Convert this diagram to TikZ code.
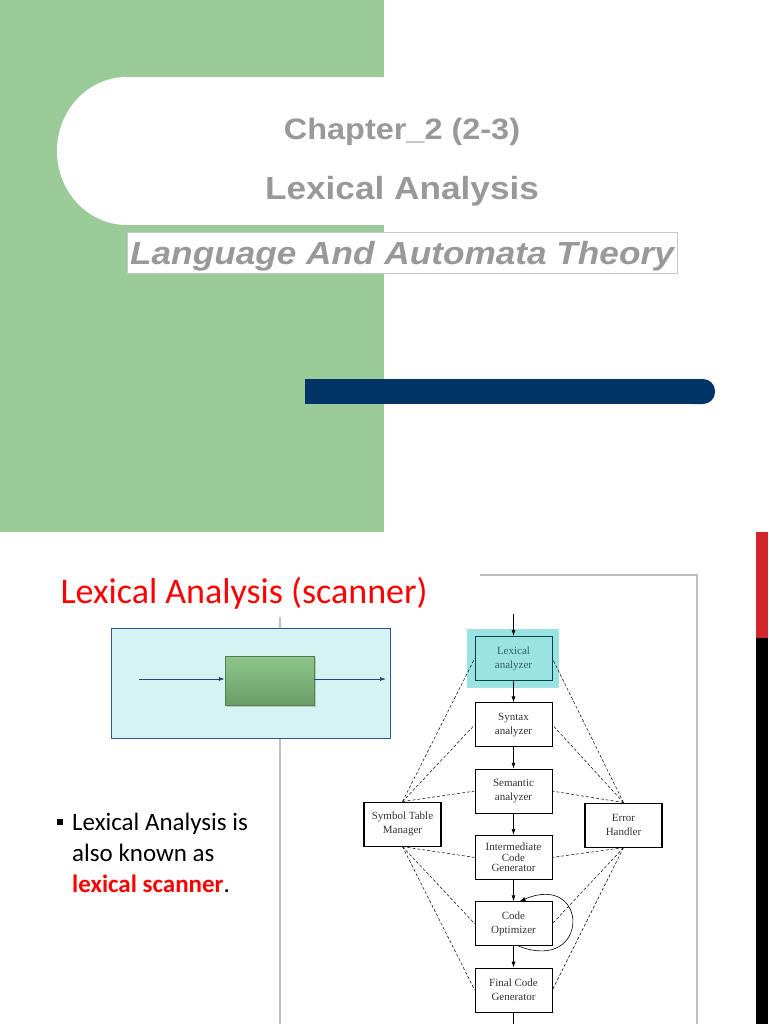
\documentclass[tikz,border=0pt]{standalone}
\usepackage{fontspec}
\setmainfont{Carlito}
\newfontfamily\headfont[FakeStretch=1.1]{Liberation Sans}
\newfontfamily\figfont{Liberation Serif}
\usetikzlibrary{positioning, shadows, arrows.meta}

\definecolor{slidegreen}{HTML}{9ACB99}
\definecolor{slideblue}{HTML}{003366}
\definecolor{headgray}{HTML}{999999}
\definecolor{scanred}{HTML}{FF0000}
\definecolor{framecyan}{HTML}{D6F3F3}
\definecolor{frameblue}{HTML}{2F5597}
\definecolor{lexcyan}{HTML}{9BE3E3}
\definecolor{barred}{HTML}{D0262B}
\definecolor{boxtop}{HTML}{8DC68B}
\definecolor{boxbottom}{HTML}{6A9F68}

\tikzset{
  head/.style={anchor=base, text=headgray, font=\headfont\bfseries\fontsize{32}{38}\selectfont},
  phase/.style={draw, line width=0.7pt, minimum width=77pt, minimum height=44pt, inner sep=1pt,
    align=center, text=black!80, font=\figfont\fontsize{11}{14}\selectfont},
  sidebox/.style={phase, line width=1.1pt},
  link/.style={line width=0.5pt, dash pattern=on 3pt off 2pt},
  flow/.style={-{Latex[length=6pt, width=4pt]}, line width=0.8pt},
}

\begin{document}
\begin{tikzpicture}[x=1pt, y=-1pt, node distance=66.3pt, on grid, auto]
  \useasboundingbox (0,0) rectangle (768,1024);

  % title slide
  \fill[slidegreen] (0,0) rectangle (384,532);
  \fill[white] (127,77) rectangle (384,225);
  \fill[white] (127,151) ellipse [x radius=70pt, y radius=74pt];
  \fill[slideblue] (305,379) rectangle (700,404);
  \fill[slideblue, rounded corners=12pt] (680,379) rectangle (715,404);
  \draw[gray!45, fill=white] (127,232) rectangle (677,273);

  \node[head, font=\headfont\bfseries\fontsize{29.5}{36}\selectfont] (chap) at (402,140) {Chapter\_2 (2-3)};
  \node[head] (topic) at (402,200) {Lexical Analysis};
  \node[head, font=\headfont\bfseries\itshape\fontsize{32}{38}\selectfont] (course) at (402,264) {Language And Automata Theory};

  % side bar
  \fill[barred] (756,532) rectangle (768,638);
  \fill[black] (756,638) rectangle (768,1024);

  % scanned figure
  \draw[gray!50, line width=2pt, fill=white] (280,575) rectangle (697,1040);
  \fill[white] (270,560) rectangle (480,617);

  \node[anchor=base west, text=scanred, font=\fontsize{36}{43}\selectfont] (scanhead) at (57,603) {Lexical Analysis (scanner)};

  \node[draw=frameblue, fill=framecyan, line width=0.8pt, minimum width=279pt, minimum height=110pt] (frame) at (250.5,683) {};
  \node[draw=boxbottom!80!black, top color=boxtop, bottom color=boxbottom, minimum width=89pt, minimum height=49pt,
    drop shadow={opacity=0.35, shadow xshift=1.5pt, shadow yshift=-1.5pt}] (scanbox) at (269.5,680.5) {};
  \coordinate (src) at (139,679);
  \coordinate (dst) at (386,679);
  \draw[-{Latex[length=6pt, width=4pt]}, frameblue!80!black, line width=0.7pt] (src) -- (scanbox.west |- src);
  \draw[-{Latex[length=6pt, width=4pt]}, frameblue!80!black, line width=0.7pt] (scanbox.east |- dst) -- (dst);

  \fill (57,819) rectangle (63,825);
  \node[anchor=north west, inner sep=0pt, align=left, font=\fontsize{25}{31}\selectfont] (note) at (72,812.5)
    {Lexical Analysis is\\also known as\\\textcolor{scanred}{\textbf{lexical scanner}}.};

  % compiler phases
  \fill[lexcyan] (467,629) rectangle (559,688);
  \node[phase, draw=teal!55!black, text=teal!45!black!80] (lex) at (513.5,658.5) {Lexical\\analyzer};
  \node[phase] (syn)   [below=of lex]   {Syntax\\analyzer};
  \node[phase] (sem)   [below=of syn]   {Semantic\\analyzer};
  \node[phase, font=\figfont\fontsize{11}{10.5}\selectfont] (inter) [below=of sem] {Intermediate\\Code\\Generator};
  \node[phase] (opt)   [below=of inter] {Code\\Optimizer};
  \node[phase] (fin)   [below=of opt]   {Final Code\\Generator};
  \node[sidebox] (sym) [below left=33pt and 111pt of sem]  {Symbol Table\\Manager};
  \node[sidebox] (err) [below right=34pt and 110pt of sem] {Error\\Handler};

  \node[coordinate, above=45pt of lex] (in) {};
  \node[coordinate, below=40pt of fin] (out) {};

  \path[flow]
    (in)    edge (lex)
    (lex)   edge (syn)
    (syn)   edge (sem)
    (sem)   edge (inter)
    (inter) edge (opt)
    (opt)   edge (fin)
    (fin)   edge (out);

  \draw[-{Latex[length=6pt, width=4pt]}, line width=0.6pt]
    ([xshift=5pt]opt.south) .. controls +(72,28) and +(70,-30) .. ([xshift=6pt]opt.north);

  \foreach \p in {lex, syn, sem} {
    \draw[link] (sym.north) -- (\p.west);
    \draw[link] (err.north) -- (\p.east);
  }
  \foreach \p in {inter, opt, fin} {
    \draw[link] (sym.south) -- (\p.west);
    \draw[link] (err.south) -- (\p.east);
  }
\end{tikzpicture}
\end{document}
